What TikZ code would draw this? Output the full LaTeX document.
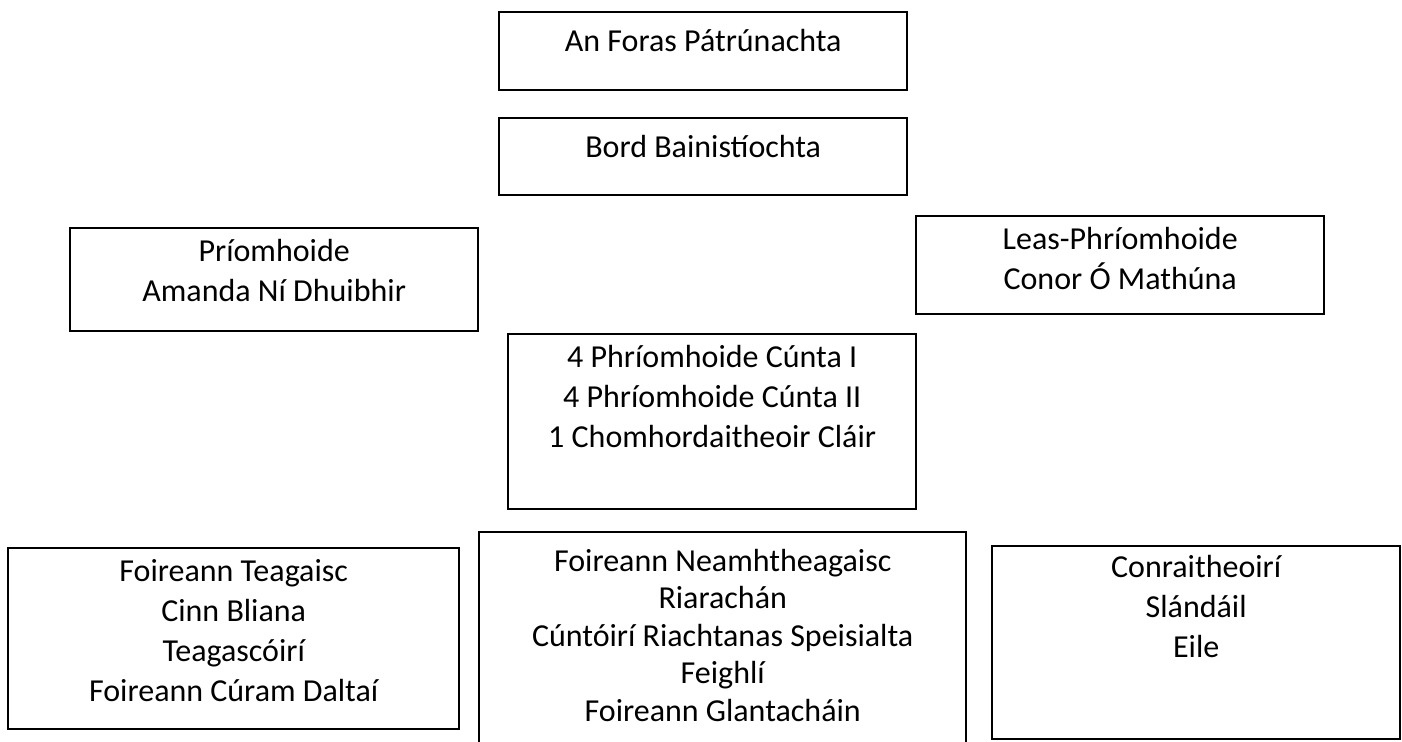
\documentclass[tikz,border=0pt]{standalone}
\usepackage{fontspec}
\setmainfont{Carlito}
\usetikzlibrary{positioning}
\tikzset{bosca/.style={draw,line width=1.2pt,rectangle,inner sep=0pt,minimum width=204pt,anchor=north west}}
\tikzset{lipead/.style={align=center,inner sep=0pt,anchor=north,font=\fontsize{16}{20}\selectfont,execute at begin node=\strut}}
\tikzset{lipeadteann/.style={lipead,font=\fontsize{16}{18.75}\selectfont}}

\begin{document}
\begin{tikzpicture}[x=0.5pt,y=-0.5pt]
\clip (0,0) rectangle (1402,742);
\node[bosca,minimum height=39pt] (foras) at (498,11) {};
\node[bosca,minimum height=38.5pt] (bord) at (498,117) {};
\node[bosca,minimum height=51.5pt] (priomh) at (69,227) {};
\node[bosca,minimum height=49pt] (leas) at (915,215) {};
\node[bosca,minimum height=87.5pt] (cunta) at (507,333) {};
\node[bosca,minimum width=225.5pt,minimum height=90.5pt] (teag) at (7,547) {};
\node[bosca,minimum width=243.5pt,minimum height=114.5pt] (neamh) at (478,531) {};
\node[bosca,minimum height=96.5pt] (conr) at (991,545) {};
\node[lipead] (foras-t) at ([yshift=-6pt]foras.north) {An Foras Pátrúnachta};
\node[lipead] (bord-t) at ([yshift=-6pt]bord.north) {Bord Bainistíochta};
\node[lipead] (priomh-t) at ([yshift=-6pt]priomh.north) {Príomhoide\\Amanda Ní Dhuibhir};
\node[lipead] (leas-t) at ([yshift=-6pt]leas.north) {Leas-Phríomhoide\\Conor Ó Mathúna};
\node[lipead] (cunta-t) at ([yshift=-6pt]cunta.north) {4 Phríomhoide Cúnta I\\4 Phríomhoide Cúnta II\\1 Chomhordaitheoir Cláir};
\node[lipead] (teag-t) at ([yshift=-6pt]teag.north) {Foireann Teagaisc\\Cinn Bliana\\Teagascóirí\\Foireann Cúram Daltaí};
\node[lipeadteann] (neamh-t) at ([yshift=-8.875pt]neamh.north) {Foireann Neamhtheagaisc\\Riarachán\\Cúntóirí Riachtanas Speisialta\hspace*{9pt}\\Feighlí\\Foireann Glantacháin};
\node[lipead] (conr-t) at ([yshift=-5pt]conr.north) {Conraitheoirí\\Slándáil\\Eile};
\end{tikzpicture}
\end{document}
